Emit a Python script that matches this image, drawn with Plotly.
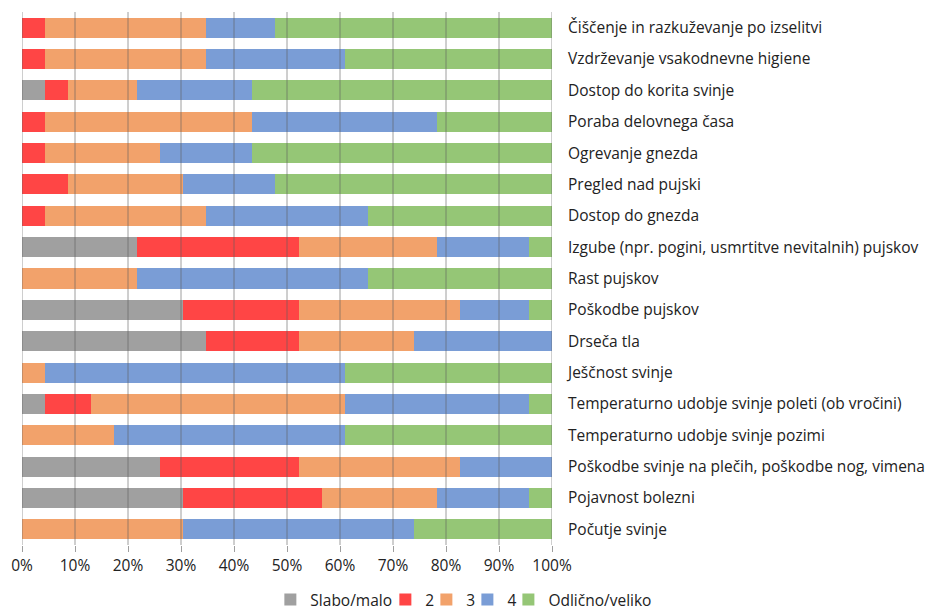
import plotly.graph_objects as go

categories = [
    "Čiščenje in razkuževanje po izselitvi",
    "Vzdrževanje vsakodnevne higiene",
    "Dostop do korita svinje",
    "Poraba delovnega časa",
    "Ogrevanje gnezda",
    "Pregled nad pujski",
    "Dostop do gnezda",
    "Izgube (npr. pogini, usmrtitve nevitalnih) pujskov",
    "Rast pujskov",
    "Poškodbe pujskov",
    "Drseča tla",
    "Ješčnost svinje",
    "Temperaturno udobje svinje poleti (ob vročini)",
    "Temperaturno udobje svinje pozimi",
    "Poškodbe svinje na plečih, poškodbe nog, vimena",
    "Pojavnost bolezni",
    "Počutje svinje",
]

# response counts per category (23 respondents)
slabo = [0, 0, 1, 0, 0, 0, 0, 5, 0, 7, 8, 0, 1, 0, 6, 7, 0]
s2    = [1, 1, 1, 1, 1, 2, 1, 7, 0, 5, 4, 0, 2, 0, 6, 6, 0]
s3    = [7, 7, 3, 9, 5, 5, 7, 6, 5, 7, 5, 1, 11, 4, 7, 5, 7]
s4    = [3, 6, 5, 8, 4, 4, 7, 4, 10, 3, 6, 13, 8, 10, 4, 4, 10]
odl   = [12, 9, 13, 5, 13, 12, 8, 1, 8, 1, 0, 9, 1, 9, 0, 1, 6]

series_names = ["Slabo/malo", "2", "3", "4", "Odlično/veliko"]
colors = ["#a0a0a0", "#ff4545", "#f2a26b", "#7a9dd6", "#95c676"]

x_ticks = [0.0, 0.1, 0.2, 0.3, 0.4, 0.5, 0.6, 0.7, 0.8, 0.9, 1.0]
# left edge of each legend entry (fraction of the figure width)
legend_x = [0.2815, 0.4049, 0.4489, 0.4929, 0.5369]

fig = go.Figure()
for i, (name, vals, col) in enumerate(zip(series_names, [slabo, s2, s3, s4, odl], colors)):
    fig.add_trace(go.Bar(
        y=categories, x=vals, name=name, orientation="h",
        marker=dict(color=col, line=dict(width=0)),
        width=0.64,
        legend=f"legend{i+2}",
    ))

legend_common = dict(
    orientation="h", xref="container", yref="container",
    xanchor="left", y=0.0, yanchor="bottom",
    font=dict(size=15.5), itemwidth=30, bgcolor="rgba(0,0,0,0)",
)
layout_legends = {}
for i, lx in enumerate(legend_x):
    layout_legends[f"legend{i+2}"] = dict(legend_common, x=lx)

# page body has an 8px margin, so the figure is offset by 8px
fig.update_layout(
    barmode="stack",
    barnorm="fraction",
    width=932, height=609,
    margin=dict(l=14, r=388, t=4, b=72),
    plot_bgcolor="white", paper_bgcolor="white",
    font=dict(family="Open Sans, Lato, sans-serif", size=15.5, color="#222222"),
    bargap=0.36,
    showlegend=True,
    **layout_legends,
)

for xv in x_ticks:
    fig.add_shape(type="line", xref="x", yref="paper", x0=xv, x1=xv, y0=0, y1=1,
                  line=dict(color="rgba(95,95,95,0.6)", width=1), layer="above")

fig.update_xaxes(
    range=[0, 1], tickvals=x_ticks, tickformat=".0%",
    showgrid=False, zeroline=False,
    ticks="outside", ticklen=6, tickcolor="rgba(95,95,95,0.6)",
    showline=False, automargin=False, fixedrange=True,
)
fig.update_yaxes(
    autorange="reversed", side="right", showgrid=False,
    ticks="", ticklabelstandoff=15, showline=False, automargin=False,
    tickfont=dict(size=15.5),
)

fig.write_html("out.html")
